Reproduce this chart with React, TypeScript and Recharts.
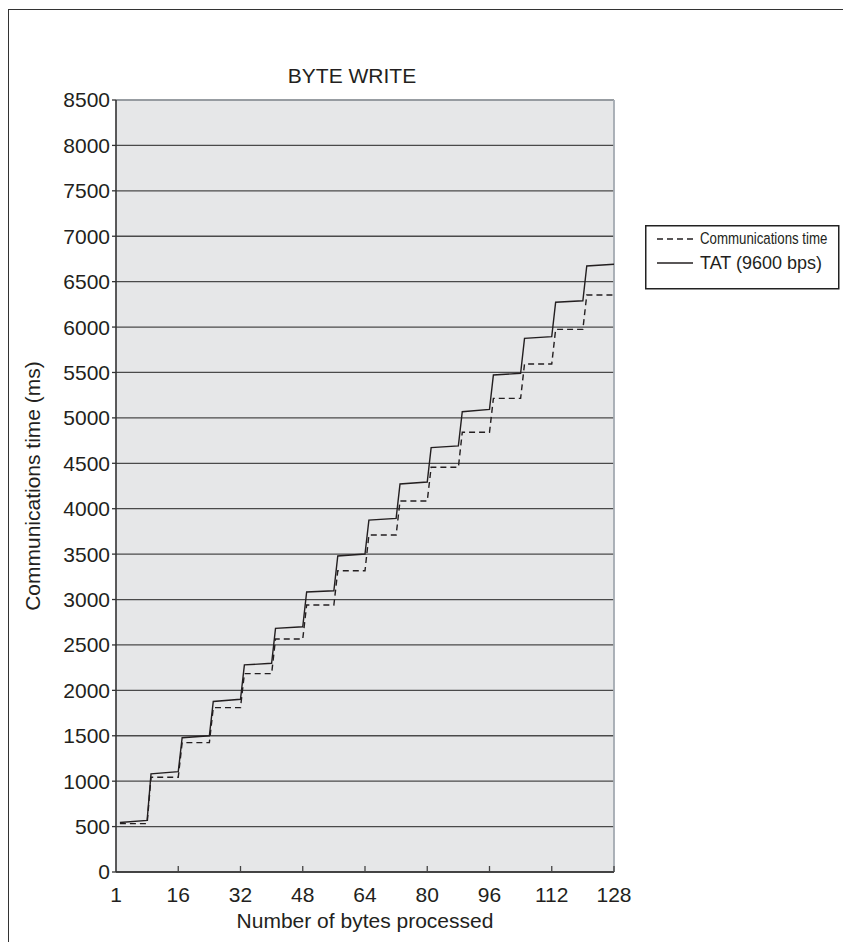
import React from 'react';
import { LineChart, Line, XAxis, YAxis, CartesianGrid, Legend, ReferenceLine } from 'recharts';

const bytePoints = [1, 8, 9, 16, 17, 24, 25, 32, 33, 40, 41, 48, 49, 56, 57, 64, 65, 72, 73, 80, 81, 88, 89, 96, 97, 104, 105, 112, 113, 120, 121, 128];

const tatValues = [545, 568, 1080, 1105, 1478, 1500, 1877, 1902, 2280, 2298, 2682, 2700, 3083, 3097, 3479, 3501, 3875, 3894, 4272, 4294, 4672, 4692, 5068, 5094, 5472, 5491, 5876, 5894, 6273, 6290, 6672, 6691];

const commValues = [533, 533, 1044, 1044, 1424, 1424, 1810, 1810, 2184, 2184, 2565, 2565, 2940, 2940, 3317, 3317, 3710, 3710, 4085, 4085, 4456, 4456, 4841, 4841, 5215, 5215, 5593, 5593, 5975, 5975, 6353, 6353];

const xTicks = [0, 16, 32, 48, 64, 80, 96, 112, 128];
const xTickLabels = ['1', '16', '32', '48', '64', '80', '96', '112', '128'];
const yTicks = [0, 500, 1000, 1500, 2000, 2500, 3000, 3500, 4000, 4500, 5000, 5500, 6000, 6500, 7000, 7500, 8000, 8500];

const data = bytePoints.map((b, i) => ({ bytes: b, comm: commValues[i], tat: tatValues[i] }));

const FONT = '"Liberation Sans", Arial, Helvetica, sans-serif';
const INK = '#231f20';

const XTick = (props: any) => {
  const { x, y, payload } = props;
  const axisY = y - 14;
  const idx = xTicks.indexOf(payload.value);
  return (
    <g>
      {payload.value !== 0 && <line x1={x} x2={x} y1={axisY} y2={axisY - 6} stroke="#444" strokeWidth={1.3} />}
      <text x={x} y={axisY + 30} textAnchor="middle" fontSize={21} fontFamily={FONT} fill={INK}>
        {xTickLabels[idx]}
      </text>
    </g>
  );
};

const LegendBox = () => (
  <svg width={196} height={66} style={{ display: 'block' }}>
    <rect x={0.75} y={0.75} width={193} height={63} fill="#fff" stroke="#222" strokeWidth={1.5} />
    <line x1={12} x2={52} y1={14} y2={14} stroke={INK} strokeWidth={1.3} strokeDasharray="6 4" />
    <text transform="translate(55,19) scale(0.78,1)" fontSize={17} fontFamily={FONT} fill={INK}>
      Communications time
    </text>
    <line x1={12} x2={48} y1={38} y2={38} stroke={INK} strokeWidth={1.3} />
    <text x={55} y={44} fontSize={18} fontFamily={FONT} fill={INK}>
      TAT (9600 bps)
    </text>
  </svg>
);

export default function App() {
  return (
    <div style={{ position: 'relative', width: 843, height: 934 }}>
      <div style={{ position: 'absolute', left: 0, top: 1, width: 843, height: 933, borderLeft: '1.5px solid #333', borderTop: '1.5px solid #333' }} />
      <div style={{ position: 'absolute', left: 0, top: 56, width: 688, textAlign: 'center', fontFamily: FONT, fontSize: 21, color: INK }}>
        BYTE WRITE
      </div>
      <div style={{ position: 'absolute', left: 0, top: 0 }}>
        <LineChart width={843} height={934} data={data} margin={{ top: 92, right: 237, left: 0, bottom: 14 }}>
          <CartesianGrid vertical={false} stroke="#4a4a4a" strokeWidth={1.3} fill="#e6e7e8" fillOpacity={1} />
          <XAxis
            dataKey="bytes"
            type="number"
            domain={[0, 128]}
            ticks={xTicks}
            height={56}
            tickSize={0}
            tickMargin={14}
            tick={<XTick />}
            axisLine={{ stroke: '#333', strokeWidth: 1.6 }}
            tickLine={false}
            label={{ value: 'Number of bytes processed', position: 'insideBottom', offset: 0, fontSize: 21, fontFamily: FONT, fill: INK }}
          />
          <YAxis
            type="number"
            domain={[0, 8500]}
            ticks={yTicks}
            width={108}
            tickSize={4}
            tickMargin={2}
            tick={{ fontSize: 21, fontFamily: FONT, fill: INK }}
            axisLine={{ stroke: '#333', strokeWidth: 1.6 }}
            tickLine={{ stroke: '#333', strokeWidth: 1.3 }}
            label={{ value: 'Communications time (ms)', angle: -90, position: 'insideLeft', offset: 25, fontSize: 21, fontFamily: FONT, fill: INK, style: { textAnchor: 'middle' } }}
          />
          <ReferenceLine y={8500} stroke="#a3aab1" strokeWidth={1.5} />
          <ReferenceLine x={128} stroke="#a3aab1" strokeWidth={1.8} />
          <Line type="linear" dataKey="comm" name="Communications time" stroke={INK} strokeWidth={1.4} strokeDasharray="6 4" dot={false} isAnimationActive={false} />
          <Line type="linear" dataKey="tat" name="TAT (9600 bps)" stroke={INK} strokeWidth={1.4} dot={false} isAnimationActive={false} />
          <Legend
            layout="vertical"
            align="center"
            verticalAlign="middle"
            content={<LegendBox />}
            wrapperStyle={{ position: 'absolute', left: 637, top: 217, width: 196, height: 66 }}
          />
        </LineChart>
      </div>
    </div>
  );
}
